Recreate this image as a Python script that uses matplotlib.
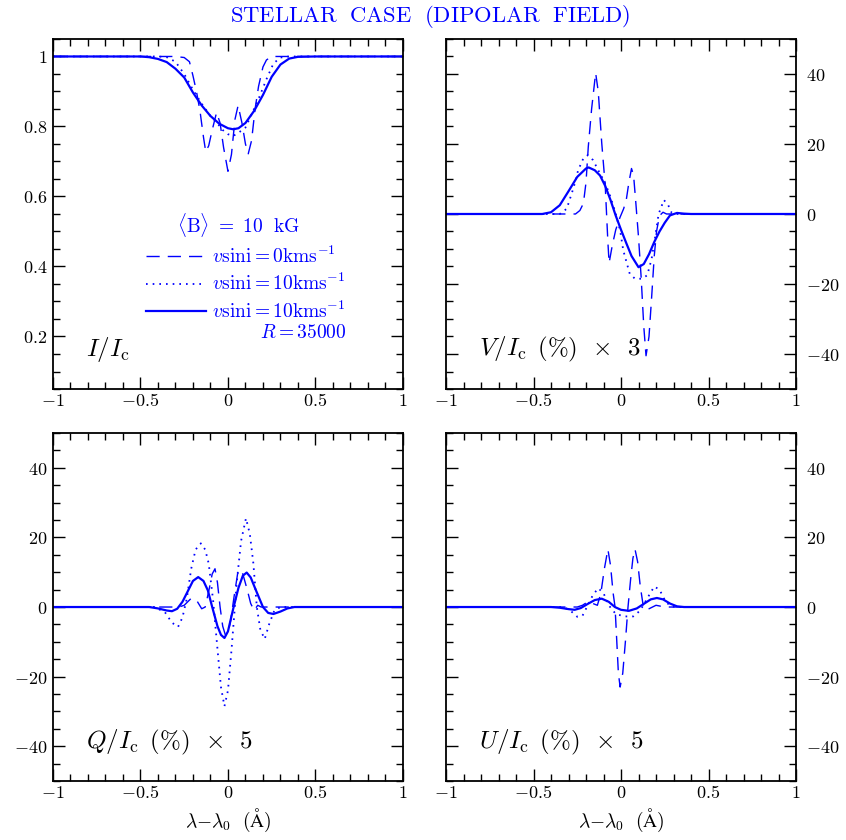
import matplotlib
matplotlib.use('Agg')
import matplotlib.pyplot as plt
from matplotlib.ticker import MultipleLocator, FuncFormatter

# ---- data (wavelength offset in Angstrom) ----
# I/Ic
i_dash_x = [-1, -0.3, -0.25, -0.22, -0.2, -0.18, -0.16, -0.14, -0.127, -0.11, -0.09, -0.065,
            -0.045, -0.025, 0.0, 0.02, 0.04, 0.058, 0.08, 0.1, 0.116, 0.135, 0.155, 0.175,
            0.2, 0.22, 0.25, 1]
i_dash_y = [1, 1.0, 0.997, 0.985, 0.945, 0.9, 0.845, 0.77, 0.728, 0.745, 0.79, 0.84,
            0.81, 0.74, 0.672, 0.72, 0.82, 0.86, 0.81, 0.75, 0.722, 0.76, 0.85, 0.915,
            0.97, 0.99, 1.0, 1]
i_dot_x = [-1, -0.4, -0.35, -0.3, -0.25, -0.2, -0.15, -0.1, -0.07, -0.03, 0.0, 0.03, 0.06,
           0.1, 0.14, 0.18, 0.22, 0.26, 0.3, 0.35, 1]
i_dot_y = [1, 1.0, 0.998, 0.985, 0.95, 0.905, 0.865, 0.83, 0.815, 0.79, 0.778, 0.773, 0.782,
           0.797, 0.84, 0.885, 0.935, 0.98, 0.997, 1.0, 1]
i_sol_x = [-1, -0.5, -0.45, -0.4, -0.35, -0.3, -0.25, -0.2, -0.15, -0.1, -0.05, 0.0, 0.03,
           0.06, 0.1, 0.15, 0.2, 0.25, 0.3, 0.35, 0.4, 0.5, 1]
i_sol_y = [1, 1.0, 0.998, 0.993, 0.984, 0.965, 0.94, 0.897, 0.86, 0.83, 0.808, 0.795, 0.792,
           0.795, 0.81, 0.845, 0.89, 0.942, 0.977, 0.994, 0.999, 1.0, 1]

# V/Ic (%) x 3
v_dash_x = [-1, -0.26, -0.235, -0.215, -0.2, -0.187, -0.168, -0.145, -0.13, -0.11, -0.09,
            -0.075, -0.068, -0.05, -0.03, -0.006, 0.015, 0.03, 0.045, 0.06, 0.072, 0.085,
            0.1, 0.115, 0.13, 0.143, 0.16, 0.175, 0.19, 0.203, 0.22, 0.24, 0.26, 1]
v_dash_y = [0, 0, 1.0, 3.0, 9.0, 19.2, 30, 40.3, 35, 20.2, 8, -8, -14, -9, -4.5, -1, 1.5,
            4, 9, 13, 11, 3, -6.6, -18, -32, -40.5, -35, -23.8, -12, -5, -0.5, 0.5, 0, 0]
v_dot_x = [-1, -0.35, -0.31, -0.27, -0.245, -0.215, -0.19, -0.16, -0.13, -0.1, -0.07, -0.045,
           -0.03, -0.005, 0.013, 0.05, 0.08, 0.12, 0.15, 0.175, 0.195, 0.215, 0.245, 0.27,
           0.29, 0.32, 1]
v_dot_y = [0, 0, 1.5, 7.7, 12.5, 15.9, 16.8, 15.4, 12.5, 9.7, 6.3, 2.5, 0.0, -4.7, -10.4,
           -17.1, -18.5, -18.5, -17.5, -12.8, -6.6, 0, 4.0, 2.5, 0.3, 0, 0]
v_sol_x = [-1, -0.45, -0.4, -0.35, -0.3, -0.25, -0.2, -0.185, -0.15, -0.12, -0.09, -0.06,
           -0.03, 0.0, 0.03, 0.06, 0.1, 0.13, 0.16, 0.19, 0.22, 0.25, 0.28, 0.32, 0.36, 0.4, 1]
v_sol_y = [0, 0, 0.5, 2.5, 6.5, 10.6, 13.0, 13.3, 12.5, 11.0, 8.0, 4.0, -0.5, -4.5, -8.3,
           -12.0, -15.2, -14.3, -11.5, -8.0, -5.0, -2.5, -0.4, 0.3, 0.1, 0, 0]

# Q/Ic (%) x 5
q_dash_x = [-1, -0.28, -0.25, -0.21, -0.18, -0.15, -0.13, -0.11, -0.09, -0.074, -0.06,
            -0.045, -0.03, -0.015, 0.0, 0.015, 0.035, 0.055, 0.069, 0.085, 0.11, 0.13,
            0.15, 0.17, 0.19, 1]
q_dash_y = [0, 0, 0.5, 2.5, 2.0, -0.5, 0, 4.5, 9.5, 11.0, 7, 0, -5.5, -8.0, -7.5, -4, 3,
            9.5, 10.7, 9.5, 5, 1, -1.0, 0.5, 0, 0]
q_dot_x = [-1, -0.42, -0.36, -0.32, -0.285, -0.26, -0.235, -0.21, -0.185, -0.155, -0.13,
           -0.11, -0.085, -0.06, -0.04, -0.02, 0.0, 0.02, 0.05, 0.075, 0.103, 0.125, 0.145,
           0.165, 0.185, 0.21, 0.235, 0.265, 0.3, 1]
q_dot_y = [0, 0, -1.5, -4.5, -5.7, -3, 2.5, 11, 16.5, 18.3, 16.5, 12.5, 2.0, -12, -23,
           -28.5, -24, -12.5, 6.9, 19, 25.5, 21, 12.6, 0, -6.5, -9.2, -5, -1, 0, 0]
q_sol_x = [-1, -0.45, -0.4, -0.35, -0.32, -0.29, -0.26, -0.23, -0.2, -0.17, -0.14, -0.115,
           -0.09, -0.06, -0.04, -0.02, 0.0, 0.03, 0.06, 0.085, 0.107, 0.13, 0.16, 0.2,
           0.23, 0.26, 0.3, 0.34, 0.38, 1]
q_sol_y = [0, 0, -0.4, -1.0, -1.2, -0.5, 1.5, 4.5, 7.5, 8.6, 7.5, 4.8, 0, -5.5, -8.0, -8.9,
           -7.0, -0.5, 5.5, 9.0, 9.9, 8.5, 4.8, 0, -1.7, -2.0, -1.3, -0.4, 0, 0]

# U/Ic (%) x 5
u_dash_x = [-1, -0.25, -0.22, -0.19, -0.16, -0.135, -0.115, -0.095, -0.075, -0.06, -0.045,
            -0.034, -0.025, -0.015, -0.005, 0.01, 0.025, 0.04, 0.055, 0.068, 0.08, 0.095,
            0.11, 0.125, 0.14, 0.16, 0.2, 0.25, 1]
u_dash_y = [0, 0, 0.5, 1.5, 1.0, 0.5, 4, 11, 16.6, 12, 4, 0, -9, -19, -23, -19, -10, 0, 8,
            14, 16.6, 13, 6, 1, -0.8, -0.5, 0.5, 0, 0]
u_dot_x = [-1, -0.33, -0.29, -0.25, -0.22, -0.19, -0.16, -0.13, -0.1, -0.07, -0.03, 0.02,
           0.07, 0.11, 0.15, 0.19, 0.22, 0.25, 0.28, 0.31, 1]
u_dot_y = [0, 0, -1.0, -2.8, -2.5, 0.5, 3.5, 5.4, 4.0, 0.5, -2.0, -2.7, -2.7, -1.0, 2.5,
           5.9, 5.0, 2.0, 0.3, 0, 0]
u_sol_x = [-1, -0.4, -0.35, -0.3, -0.265, -0.23, -0.19, -0.15, -0.11, -0.07, -0.035, 0.0,
           0.045, 0.09, 0.13, 0.17, 0.205, 0.24, 0.28, 0.32, 0.36, 1]
u_sol_y = [0, 0, -0.2, -0.6, -0.8, -0.3, 0.9, 2.0, 2.4, 1.5, 0, -0.8, -1.1, -0.4, 0.9, 2.2,
           2.6, 2.2, 1.0, 0.2, 0, 0]

leg_labels = [r'$v\mathrm{sini{=}0kms}^{-1}$', r'$v\mathrm{sini{=}10kms}^{-1}$',
              r'$v\mathrm{sini{=}10kms}^{-1}$']

plt.rcParams['mathtext.fontset'] = 'cm'
plt.rcParams['font.family'] = ['DejaVu Serif']
plt.rcParams['lines.scale_dashes'] = False
plt.rcParams['axes.linewidth'] = 1.3

BLUE = '#0000ff'
DASH = (0, (9.5, 5.8))
DOT = (0, (1.2, 3.6))
fmt = FuncFormatter(lambda v, pos: r'$%g$' % v)

fig = plt.figure(figsize=(8.46, 8.40), dpi=100)
ax_i = fig.add_axes([0.0626, 0.5369, 0.4137, 0.4167])
ax_v = fig.add_axes([0.5272, 0.5369, 0.4137, 0.4167])
ax_q = fig.add_axes([0.0626, 0.0702, 0.4137, 0.4143])
ax_u = fig.add_axes([0.5272, 0.0702, 0.4137, 0.4143])


def setup(ax, ylim, ymaj, ymin, right=False):
    ax.set_xlim(-1, 1)
    ax.set_ylim(*ylim)
    ax.xaxis.set_major_locator(MultipleLocator(0.5))
    ax.xaxis.set_minor_locator(MultipleLocator(0.1))
    ax.yaxis.set_major_locator(MultipleLocator(ymaj))
    ax.yaxis.set_minor_locator(MultipleLocator(ymin))
    ax.xaxis.set_major_formatter(fmt)
    ax.yaxis.set_major_formatter(fmt)
    ax.tick_params(which='both', direction='in', top=True, bottom=True, left=True,
                   right=True, labelsize=13, width=1.0)
    ax.tick_params(which='major', length=8.6)
    ax.tick_params(which='minor', length=4.8)
    ax.xaxis.set_tick_params(which='major', pad=2)
    ax.yaxis.set_tick_params(which='major', pad=4)
    if right:
        ax.tick_params(labelleft=False, labelright=True)
        ax.yaxis.set_tick_params(which='major', pad=7)


setup(ax_i, (0.05, 1.05), 0.2, 0.05)
setup(ax_v, (-50, 50), 20, 5, right=True)
setup(ax_q, (-50, 50), 20, 5)
setup(ax_u, (-50, 50), 20, 5, right=True)

h1, = ax_i.plot(i_dash_x, i_dash_y, color=BLUE, lw=1.0, ls=DASH)
h2, = ax_i.plot(i_dot_x, i_dot_y, color=BLUE, lw=1.3, ls=DOT)
h3, = ax_i.plot(i_sol_x, i_sol_y, color=BLUE, lw=1.6)

ax_v.plot(v_dash_x, v_dash_y, color=BLUE, lw=1.0, ls=DASH)
ax_v.plot(v_dot_x, v_dot_y, color=BLUE, lw=1.3, ls=DOT)
ax_v.plot(v_sol_x, v_sol_y, color=BLUE, lw=1.6)

ax_q.plot(q_dash_x, q_dash_y, color=BLUE, lw=1.0, ls=DASH)
ax_q.plot(q_dot_x, q_dot_y, color=BLUE, lw=1.3, ls=DOT)
ax_q.plot(q_sol_x, q_sol_y, color=BLUE, lw=1.6)

ax_u.plot(u_dash_x, u_dash_y, color=BLUE, lw=1.0, ls=DASH)
ax_u.plot(u_dot_x, u_dot_y, color=BLUE, lw=1.3, ls=DOT)
ax_u.plot(u_sol_x, u_sol_y, color=BLUE, lw=1.6)

# legend block inside the I panel
ax_i.text(0.53, 0.469, r'$\langle\mathrm{B}\rangle\ =\ \mathrm{10\ \ kG}$', transform=ax_i.transAxes,
          ha='center', va='center', fontsize=14, color=BLUE)
ax_i.legend([h1, h2, h3], leg_labels, loc='upper left', bbox_to_anchor=(0.265, 0.41),
            frameon=False, fontsize=14, handlelength=3.1, handletextpad=0.3,
            labelspacing=0.33, borderpad=0, borderaxespad=0, labelcolor=BLUE)
ax_i.text(0.839, 0.145, r'$R\mathrm{{=}35000}$', transform=ax_i.transAxes, ha='right',
          va='baseline', fontsize=14, color=BLUE)

labels = [(ax_i, r'$I/I_{\mathrm{c}}$'),
          (ax_v, r'$V/I_{\mathrm{c}}\ \,(\%)\ \,\times\ \,3$'),
          (ax_q, r'$Q/I_{\mathrm{c}}\ \,(\%)\ \,\times\ \,5$'),
          (ax_u, r'$U/I_{\mathrm{c}}\ \,(\%)\ \,\times\ \,5$')]
for ax, s in labels:
    ax.text(0.095, 0.095, s, transform=ax.transAxes, ha='left', va='baseline', fontsize=18)

for ax in (ax_q, ax_u):
    ax.set_xlabel(r'$\lambda{-}\lambda_0\ \ (\mathrm{\AA})$', fontsize=14, labelpad=4)

fig.text(0.508, 0.98, r'$\mathrm{STELLAR\ \ CASE\ \ (DIPOLAR\ \ FIELD)}$', ha='center',
         va='center', fontsize=16.3, color=BLUE)

fig.savefig('out.png', dpi=100)
